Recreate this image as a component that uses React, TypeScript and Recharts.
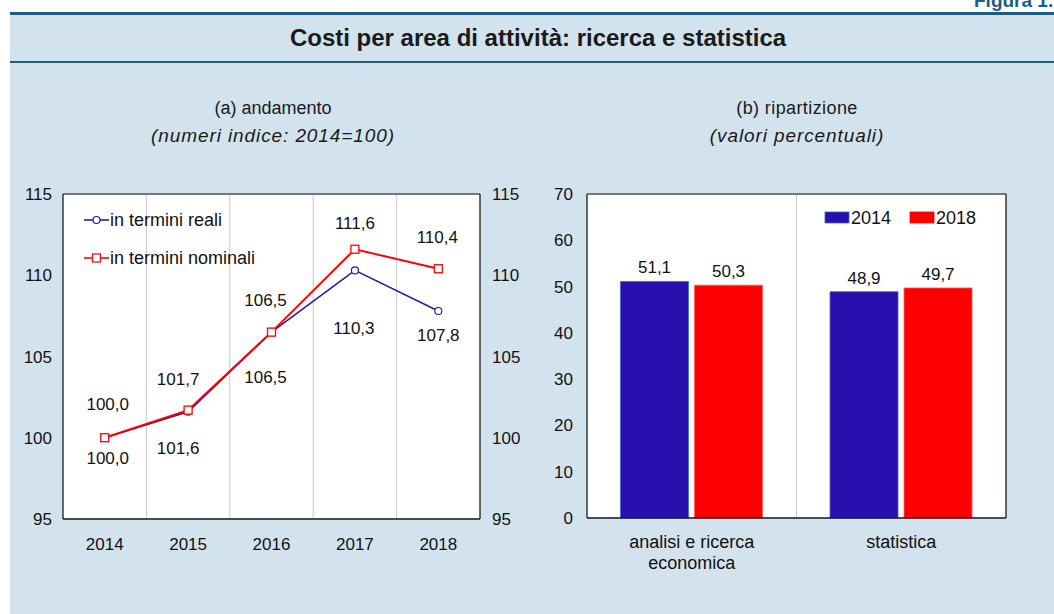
import React from 'react';
import {
  ComposedChart,
  BarChart,
  Bar,
  Line,
  XAxis,
  YAxis,
  CartesianGrid,
  ReferenceLine,
  LabelList,
  Legend,
  Text,
} from 'recharts';

// ---------- data ----------
const years = ['2014', '2015', '2016', '2017', '2018'];
const realValues = [100.0, 101.6, 106.5, 110.3, 107.8];
const nominalValues = [100.0, 101.7, 106.5, 111.6, 110.4];
const lineTicks = [95, 100, 105, 110, 115];

const areas = ['analisi e ricerca economica', 'statistica'];
const share2014 = [51.1, 48.9];
const share2018 = [50.3, 49.7];
const barTicks = [0, 10, 20, 30, 40, 50, 60, 70];

const seriesLineNames = ['in termini reali', 'in termini nominali'];
const seriesBarNames = ['2014', '2018'];

// label offsets (style only)
const nominalLabelOffset = [
  [3, -33],
  [-10, -31],
  [-6, -32],
  [0, -26],
  [-1, -31],
];
const realLabelOffset = [
  [3, 21],
  [-10, 37],
  [-6, 45],
  [-1, 58],
  [0, 24],
];

// ---------- styles ----------
const FONT = '"Liberation Sans", Arial, Helvetica, sans-serif';
const BLUE_LINE = '#2a1aa6';
const RED = '#ff0000';
const BLUE_BAR = '#2710ae';
const GRID = '#c9c9c9';
const BORDER = '#1a1a1a';
const PANEL = '#d3e3ed';
const DARK = '#1b5d87';

const lineData = years.map((y, i) => ({ year: y, real: realValues[i], nominal: nominalValues[i] }));
const barData = areas.map((a, i) => ({ area: a, y2014: share2014[i], y2018: share2018[i] }));

const fmt = (v: number) => v.toFixed(1).replace('.', ',');

const makeLineLabel = (offsets: number[][]) => (props: any) => {
  const { x, y, value, index } = props;
  const [dx, dy] = offsets[index] || [0, 0];
  return (
    <text
      x={x + dx}
      y={y + dy}
      textAnchor="middle"
      dominantBaseline="central"
      fontSize={17}
      fontFamily={FONT}
      fill="#111"
    >
      {fmt(Number(value))}
    </text>
  );
};

const SquareDot = (props: any) => {
  const { cx, cy, index } = props;
  if (cx == null || cy == null) return <g key={`sq-${index}`} />;
  return (
    <rect
      key={`sq-${index}`}
      x={cx - 4}
      y={cy - 4}
      width={8}
      height={8}
      fill="#fff"
      stroke={RED}
      strokeWidth={1.3}
    />
  );
};

const LineLegend = () => (
  <svg width={220} height={60} style={{ overflow: 'visible', display: 'block' }}>
    {seriesLineNames.map((name, i) => {
      const cy = 10 + i * 38;
      const color = i === 0 ? BLUE_LINE : RED;
      return (
        <g key={name}>
          <line x1={0} x2={25} y1={cy} y2={cy} stroke={color} strokeWidth={1.6} />
          {i === 0 ? (
            <circle cx={12.5} cy={cy} r={3.5} fill="#fff" stroke={color} strokeWidth={1.2} />
          ) : (
            <rect x={8.5} y={cy - 4} width={8} height={8} fill="#fff" stroke={color} strokeWidth={1.2} />
          )}
          <text x={26} y={cy} dominantBaseline="central" fontSize={18} fontFamily={FONT} fill="#111">
            {name}
          </text>
        </g>
      );
    })}
  </svg>
);

const BarLegend = () => (
  <svg width={170} height={20} style={{ overflow: 'visible', display: 'block' }}>
    {seriesBarNames.map((name, i) => {
      const x0 = i * 85;
      const color = i === 0 ? BLUE_BAR : RED;
      return (
        <g key={name}>
          <rect x={x0} y={4} width={24} height={11} fill={color} stroke={i === 0 ? '#3f63d6' : RED} strokeWidth={0.8} />
          <text x={x0 + 26} y={10} dominantBaseline="central" fontSize={18} fontFamily={FONT} fill="#111">
            {name}
          </text>
        </g>
      );
    })}
  </svg>
);

const AreaTick = (props: any) => {
  const { x, y, payload } = props;
  return (
    <Text
      x={x}
      y={y}
      width={160}
      textAnchor="middle"
      verticalAnchor="start"
      fontSize={18}
      fontFamily={FONT}
      fill="#111"
      lineHeight={21}
    >
      {payload.value}
    </Text>
  );
};

const lineVerticalGen = ({ offset }: any) =>
  years.slice(1).map((_, i) => offset.left + (offset.width * (i + 1)) / years.length);
const barVerticalGen = ({ offset }: any) =>
  areas.slice(1).map((_, i) => offset.left + (offset.width * (i + 1)) / areas.length);

const tickStyle = { fontSize: 17, fontFamily: FONT, fill: '#111' };

export default function App() {
  return (
    <div
      style={{
        position: 'absolute',
        left: 0,
        top: 0,
        width: 1054,
        height: 614,
        background: '#fff',
        overflow: 'hidden',
        fontFamily: FONT,
      }}
    >
      <div
        style={{
          position: 'absolute',
          left: 974,
          top: -10,
          fontSize: 19,
          fontWeight: 'bold',
          color: DARK,
          whiteSpace: 'nowrap',
        }}
      >
        Figura 1.
      </div>
      <div style={{ position: 'absolute', left: 10, top: 13, width: 1060, height: 610, background: PANEL }} />
      <div style={{ position: 'absolute', left: 10, top: 12, width: 1060, height: 3, background: DARK }} />
      <div style={{ position: 'absolute', left: 10, top: 61, width: 1060, height: 2, background: DARK }} />
      <div
        style={{
          position: 'absolute',
          left: 0,
          top: 15,
          width: 1076,
          height: 46,
          display: 'flex',
          alignItems: 'center',
          justifyContent: 'center',
          fontSize: 24,
          fontWeight: 'bold',
          color: '#1a1a1a',
        }}
      >
        <span>Costi per area di attività: ricerca e statistica</span>
      </div>

      {/* subtitles */}
      <div style={{ position: 'absolute', left: 73, width: 400, top: 94, textAlign: 'center', fontSize: 18, color: '#1a1a1a', lineHeight: '28px' }}>
        <div>(a) andamento</div>
        <div style={{ fontStyle: 'italic', fontSize: 19, letterSpacing: 0.9 }}>(numeri indice: 2014=100)</div>
      </div>
      <div style={{ position: 'absolute', left: 597, width: 400, top: 94, textAlign: 'center', fontSize: 18, color: '#1a1a1a', lineHeight: '28px' }}>
        <div style={{ letterSpacing: 0.4 }}>(b) ripartizione</div>
        <div style={{ fontStyle: 'italic', fontSize: 19, letterSpacing: 0.9 }}>(valori percentuali)</div>
      </div>

      {/* left chart */}
      <div style={{ position: 'absolute', left: 0, top: 180 }}>
        <ComposedChart width={520} height={400} data={lineData} margin={{ top: 14, right: 0, left: 0, bottom: 31 }}>
          <CartesianGrid
            fill="#fff"
            stroke={GRID}
            strokeWidth={1}
            verticalCoordinatesGenerator={lineVerticalGen}
          />
          <XAxis
            dataKey="year"
            scale="band"
            height={30}
            tickLine={false}
            tickSize={0}
            tickMargin={19}
            axisLine={{ stroke: BORDER, strokeWidth: 1.3 }}
            tick={tickStyle}
            interval={0}
          />
          <YAxis
            yAxisId="l"
            domain={[95, 115]}
            ticks={lineTicks}
            width={63}
            tickLine={false}
            tickSize={0}
            tickMargin={11}
            axisLine={{ stroke: BORDER, strokeWidth: 1.3 }}
            tick={tickStyle}
            allowDataOverflow
          />
          <YAxis
            yAxisId="r"
            orientation="right"
            domain={[95, 115]}
            ticks={lineTicks}
            width={40}
            tickLine={false}
            tickSize={0}
            tickMargin={12}
            axisLine={{ stroke: BORDER, strokeWidth: 1.3 }}
            tick={{ ...tickStyle, textAnchor: 'start' }}
            allowDataOverflow
          />
          <ReferenceLine yAxisId="l" y={115} stroke="#555" strokeWidth={1.3} />
          <Legend
            layout="vertical"
            verticalAlign="middle"
            align="center"
            wrapperStyle={{ position: 'absolute', left: 84, top: 30, width: 220, height: 60 }}
            content={() => <LineLegend />}
          />
          <Line
            yAxisId="l"
            dataKey="real"
            name={seriesLineNames[0]}
            stroke={BLUE_LINE}
            strokeWidth={1.6}
            dot={{ r: 3.5, fill: '#fff', stroke: BLUE_LINE, strokeWidth: 1.2 }}
            isAnimationActive={false}
          >
            <LabelList dataKey="real" content={makeLineLabel(realLabelOffset)} />
          </Line>
          <Line
            yAxisId="l"
            dataKey="nominal"
            name={seriesLineNames[1]}
            stroke={RED}
            strokeWidth={2}
            dot={SquareDot}
            isAnimationActive={false}
          >
            <LabelList dataKey="nominal" content={makeLineLabel(nominalLabelOffset)} />
          </Line>
        </ComposedChart>
      </div>

      {/* right chart */}
      <div style={{ position: 'absolute', left: 520, top: 180 }}>
        <BarChart
          width={534}
          height={400}
          data={barData}
          margin={{ top: 14, right: 0, left: 0, bottom: 12 }}
          barCategoryGap="16%"
          barGap={6}
        >
          <CartesianGrid fill="#fff" stroke={GRID} strokeWidth={1} verticalCoordinatesGenerator={barVerticalGen} />
          <XAxis
            dataKey="area"
            height={50}
            tickLine={false}
            tickSize={0}
            tickMargin={17}
            axisLine={{ stroke: BORDER, strokeWidth: 1.3 }}
            tick={<AreaTick />}
            interval={0}
          />
          <YAxis
            yAxisId="l"
            domain={[0, 70]}
            ticks={barTicks}
            width={67}
            tickLine={false}
            tickSize={0}
            tickMargin={14}
            axisLine={{ stroke: BORDER, strokeWidth: 1.3 }}
            tick={tickStyle}
          />
          <YAxis
            yAxisId="r"
            orientation="right"
            domain={[0, 70]}
            ticks={barTicks}
            width={48}
            tickLine={false}
            tickSize={0}
            tickMargin={14}
            axisLine={{ stroke: BORDER, strokeWidth: 1.3 }}
            tick={{ ...tickStyle, textAnchor: 'start' }}
          />
          <ReferenceLine yAxisId="l" y={70} stroke="#555" strokeWidth={1.3} />
          <Legend
            layout="vertical"
            verticalAlign="middle"
            align="center"
            wrapperStyle={{ position: 'absolute', left: 305, top: 28, width: 170, height: 20 }}
            content={() => <BarLegend />}
          />
          <Bar
            yAxisId="l"
            dataKey="y2014"
            name={seriesBarNames[0]}
            fill={BLUE_BAR}
            stroke="#3f63d6"
            strokeWidth={0.8}
            isAnimationActive={false}
          >
            <LabelList dataKey="y2014" position="top" offset={8} formatter={(v: any) => fmt(Number(v))} style={{ fontSize: 17, fontFamily: FONT, fill: '#111' }} />
          </Bar>
          <Bar
            yAxisId="l"
            dataKey="y2018"
            name={seriesBarNames[1]}
            fill={RED}
            stroke="#ff5a5a"
            strokeWidth={0.8}
            isAnimationActive={false}
          >
            <LabelList dataKey="y2018" position="top" offset={8} formatter={(v: any) => fmt(Number(v))} style={{ fontSize: 17, fontFamily: FONT, fill: '#111' }} />
          </Bar>
        </BarChart>
      </div>
    </div>
  );
}
